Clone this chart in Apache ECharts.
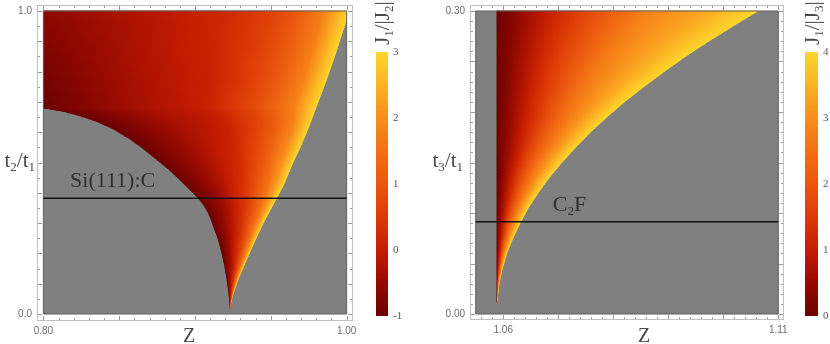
<!DOCTYPE html>
<html>
<head>
<meta charset="utf-8">
<script src="https://cdn.jsdelivr.net/npm/echarts@6/dist/echarts.min.js"></script>
<style>
  html, body { margin: 0; padding: 0; background: #fff; }
  #chart { width: 830px; height: 344px; }
</style>
</head>
<body>
<div id="chart"></div>
<script>
var chart = echarts.init(document.getElementById('chart'), null, { renderer: 'canvas' })

/* ── shared: fractions across a row at which the colour value is read ── */
var knotFrac = [0, 0.3, 0.6, 0.8, 0.92, 1]

/* ── left panel: J1/|J2| over Z and t2/t1 ─────────────────────────────── */
var leftZRange = [0.80, 1.00]
var leftTRange = [0.0, 1.0]
var leftT  = [1.000, 0.970, 0.900, 0.840, 0.772, 0.720, 0.679, 0.675, 0.668, 0.655, 0.635, 0.610, 0.574, 0.540, 0.508, 0.475,
              0.442, 0.420, 0.400, 0.382, 0.360, 0.335, 0.310, 0.288, 0.245, 0.200, 0.155, 0.112, 0.080, 0.046, 0.013]
var leftZL = [0.800, 0.800, 0.800, 0.800, 0.800, 0.800, 0.800, 0.805, 0.813, 0.823, 0.835, 0.846, 0.858, 0.867, 0.875, 0.883,
              0.8900, 0.8945, 0.8985, 0.9020, 0.9055, 0.9085, 0.9106, 0.9121, 0.9152, 0.9176, 0.9195, 0.9209, 0.9218, 0.9226, 0.9231]
var leftZR = [1.0000, 1.0000, 0.9955, 0.9916, 0.9868, 0.9829, 0.9798, 0.9795, 0.9790, 0.9780, 0.9765, 0.9746, 0.9716, 0.9686, 0.9655, 0.9627,
              0.9600, 0.9580, 0.9559, 0.9539, 0.9516, 0.9489, 0.9462, 0.9440, 0.9400, 0.9360, 0.9321, 0.9284, 0.9262, 0.9242, 0.9231]
var leftV = [
  [-0.60, -0.20, 0.20, 0.75, 1.70, 2.8],
  [-0.65, -0.25, 0.20, 0.80, 1.80, 3.0],
  [-0.72, -0.28, 0.18, 0.82, 1.80, 3.0],
  [-0.80, -0.30, 0.15, 0.85, 1.80, 3.0],
  [-0.88, -0.35, 0.10, 0.85, 1.80, 3.0],
  [-0.95, -0.38, 0.08, 0.88, 1.80, 3.0],
  [-1.00, -0.40, 0.05, 0.90, 1.80, 3.0],
  [-1.00, -0.40, 0.05, 0.90, 1.80, 3.0],
  [-1.00, -0.40, 0.05, 0.90, 1.80, 3.0],
  [-1.00, -0.40, 0.05, 0.90, 1.80, 3.0],
  [-1.00, -0.40, 0.05, 0.90, 1.80, 3.0],
  [-1.00, -0.40, 0.08, 0.95, 1.85, 3.0],
  [-1.00, -0.40, 0.15, 1.05, 1.95, 3.0],
  [-1.00, -0.40, 0.20, 1.10, 2.00, 3.0],
  [-1.00, -0.40, 0.25, 1.15, 2.05, 3.0],
  [-1.00, -0.40, 0.30, 1.20, 2.10, 3.0],
  [-1.00, -0.40, 0.35, 1.25, 2.15, 3.0],
  [-1.00, -0.40, 0.40, 1.28, 2.18, 3.0],
  [-1.00, -0.40, 0.42, 1.29, 2.19, 3.0],
  [-1.00, -0.40, 0.45, 1.30, 2.20, 3.0],
  [-1.00, -0.40, 0.45, 1.30, 2.20, 3.0],
  [-1.00, -0.40, 0.45, 1.30, 2.20, 3.0],
  [-1.00, -0.40, 0.45, 1.30, 2.20, 3.0],
  [-1.00, -0.40, 0.45, 1.30, 2.20, 3.0],
  [-1.00, -0.40, 0.45, 1.30, 2.20, 3.0],
  [-1.00, -0.40, 0.45, 1.30, 2.20, 3.0],
  [-1.00, -0.40, 0.45, 1.30, 2.20, 3.0],
  [-1.00, -0.40, 0.45, 1.30, 2.20, 3.0],
  [-1.00, -0.40, 0.45, 1.30, 2.20, 3.0],
  [-1.00, -0.40, 0.45, 1.30, 2.20, 3.0],
  [-1.00, -0.40, 0.45, 1.30, 2.20, 3.0]
]
var leftVRange = [-1, 3]
var leftLineT = 0.382
var leftNote = { z: 0.8176, t: 0.439, text: 'Si(111):C' }
var leftXLabels = [0.80, 1.00]
var leftYLabels = [0.0, 1.0]

/* ── right panel: J1/|J3| over Z and t3/t1 ────────────────────────────── */
var rightZRange = [1.055, 1.11]
var rightTRange = [0.0, 0.30]
var rightT  = [0.300, 0.285, 0.270, 0.255, 0.240, 0.225, 0.210, 0.195, 0.180, 0.165, 0.150, 0.135, 0.120, 0.105,
               0.091, 0.075, 0.060, 0.045, 0.030, 0.011]
var rightZL = [1.0588, 1.0588, 1.0588, 1.0588, 1.0588, 1.0588, 1.0588, 1.0588, 1.0588, 1.0588, 1.0588, 1.0588, 1.0588, 1.0588,
               1.0588, 1.0588, 1.0588, 1.0588, 1.0588, 1.0588]
var rightZR = [1.1064, 1.1018, 1.0974, 1.0932, 1.0893, 1.0856, 1.0821, 1.0789, 1.0759, 1.0732, 1.0707, 1.0684, 1.0664, 1.0646,
               1.0632, 1.0618, 1.0607, 1.0599, 1.0593, 1.0589]
var rightV = [
  [0, 1.55, 2.90, 3.35, 3.75, 4],
  [0, 1.52, 2.87, 3.35, 3.75, 4],
  [0, 1.50, 2.84, 3.34, 3.75, 4],
  [0, 1.47, 2.80, 3.32, 3.75, 4],
  [0, 1.43, 2.74, 3.30, 3.74, 4],
  [0, 1.36, 2.66, 3.27, 3.73, 4],
  [0, 1.28, 2.58, 3.24, 3.72, 4],
  [0, 1.20, 2.46, 3.20, 3.70, 4],
  [0, 1.15, 2.42, 3.20, 3.70, 4],
  [0, 1.10, 2.40, 3.20, 3.70, 4],
  [0, 1.10, 2.40, 3.20, 3.70, 4],
  [0, 1.10, 2.40, 3.20, 3.70, 4],
  [0, 1.10, 2.40, 3.20, 3.70, 4],
  [0, 1.10, 2.40, 3.20, 3.70, 4],
  [0, 1.10, 2.40, 3.20, 3.70, 4],
  [0, 1.10, 2.40, 3.20, 3.70, 4],
  [0, 1.10, 2.40, 3.20, 3.70, 4],
  [0, 1.10, 2.40, 3.20, 3.70, 4],
  [0, 1.10, 2.40, 3.20, 3.70, 4],
  [0, 1.10, 2.40, 3.20, 3.70, 4]
]
var rightVRange = [0, 4]
var rightLineT = 0.0914
var rightNote = { z: 1.069, t: 0.108 }
var rightXLabels = [1.06, 1.11]
var rightYLabels = [0.00, 0.30]

/* ── colour map (dark red → red → orange → yellow) ───────────────────── */
var cmapStops = [
  [0.000, [107, 0, 0]],
  [0.125, [150, 10, 0]],
  [0.250, [196, 28, 0]],
  [0.375, [220, 58, 6]],
  [0.500, [234, 86, 14]],
  [0.625, [243, 112, 20]],
  [0.750, [248, 142, 28]],
  [0.875, [252, 178, 36]],
  [1.000, [254, 214, 44]]
]

function cmap(s) {
  s = Math.max(0, Math.min(1, s))
  for (var i = 1; i < cmapStops.length; i++) {
    if (s <= cmapStops[i][0]) {
      var a = cmapStops[i - 1], b = cmapStops[i]
      var f = (s - a[0]) / (b[0] - a[0])
      return 'rgb(' + [0, 1, 2].map(function (k) {
        return Math.round(a[1][k] + (b[1][k] - a[1][k]) * f)
      }).join(',') + ')'
    }
  }
  return 'rgb(254,214,44)'
}

function knotValue(vals, f) {
  for (var k = 1; k < knotFrac.length; k++) {
    if (f <= knotFrac[k]) {
      var g = (f - knotFrac[k - 1]) / (knotFrac[k] - knotFrac[k - 1])
      return vals[k - 1] + (vals[k] - vals[k - 1]) * g
    }
  }
  return vals[vals.length - 1]
}

function steps(a, b, step) {
  var out = []
  for (var k = 0; a + k * step <= b + 1e-9; k++) out.push(+(a + k * step).toFixed(4))
  return out
}

/* ── axes: only the end labels; frame and ticks are added afterwards ─── */
function labelAxis(pos, grid, range, labels, digits) {
  return {
    type: 'value', gridIndex: grid, position: pos, min: range[0], max: range[1],
    axisLine: { show: false, onZero: false },
    splitLine: { show: false },
    axisTick: { show: false },
    axisLabel: { show: true, customValues: labels, margin: 5, color: '#6e6e6e', fontSize: 10,
      fontFamily: 'Liberation Sans',
      formatter: function (v) { return v.toFixed(digits) } }
  }
}

function hiddenAxis(grid, range) {
  return { type: 'value', gridIndex: grid, min: range[0], max: range[1], show: false }
}

function cbAxis(grid, range) {
  return {
    type: 'value', gridIndex: grid, position: 'right', min: range[0], max: range[1], interval: 1,
    axisLine: { show: false }, axisTick: { show: false }, splitLine: { show: false },
    axisLabel: { margin: 5, color: '#555', fontSize: 11, fontFamily: 'Liberation Serif' }
  }
}

// frame ranges add a few pixels of padding round the data region
var leftFrameZ = [0.7958, 1.0042], leftFrameT = [-0.0231, 1.0198]
var rightFrameZ = [1.05396, 1.11104], rightFrameT = [-0.00594, 0.30594]

var xAxes = [
  labelAxis('bottom', 0, leftFrameZ, leftXLabels, 2),
  labelAxis('bottom', 1, rightFrameZ, rightXLabels, 2),
  hiddenAxis(2, [0, 1]),
  hiddenAxis(3, [0, 1])
]
var yAxes = [
  labelAxis('left', 0, leftFrameT, leftYLabels, 1),
  labelAxis('left', 1, rightFrameT, rightYLabels, 2),
  cbAxis(2, leftVRange),
  cbAxis(3, rightVRange)
]

/* ── series builders ─────────────────────────────────────────────────── */
function rectSeries(axis, zr, tr, style) {
  return {
    type: 'custom', xAxisIndex: axis, yAxisIndex: axis, silent: true,
    data: [[zr[0], tr[0], zr[1], tr[1]]],
    renderItem: function (params, api) {
      var p0 = api.coord([api.value(0), api.value(3)])
      var p1 = api.coord([api.value(2), api.value(1)])
      return { type: 'rect', shape: { x: p0[0], y: p0[1], width: p1[0] - p0[0], height: p1[1] - p0[1] },
        style: style }
    }
  }
}

function bandSeries(axis, T, ZL, ZR, V, vr) {
  return {
    type: 'custom', xAxisIndex: axis, yAxisIndex: axis, silent: true,
    data: T.slice(0, -1).map(function (t, i) { return [ZL[i], t, i] }),
    renderItem: function (params, api) {
      var i = api.value(2)
      function row(s) {
        return {
          zl: ZL[i] + (ZL[i + 1] - ZL[i]) * s,
          zr: ZR[i] + (ZR[i + 1] - ZR[i]) * s,
          t: T[i] + (T[i + 1] - T[i]) * s,
          v: V[i].map(function (v, k) { return v + (V[i + 1][k] - v) * s })
        }
      }
      var yTop = api.coord([ZL[i], T[i]])[1], yBot = api.coord([ZL[i], T[i + 1]])[1]
      var m = Math.max(1, Math.ceil((yBot - yTop) / 1.5))
      var children = []
      for (var k = 0; k < m; k++) {
        var a = row(k / m), b = row((k + 1) / m), c = row((k + 0.5) / m)
        var p1 = api.coord([a.zl, a.t]), p2 = api.coord([a.zr, a.t])
        var p3 = api.coord([b.zr, b.t]), p4 = api.coord([b.zl, b.t])
        p1[1] -= 0.4; p2[1] -= 0.4; p3[1] += 0.4; p4[1] += 0.4
        var xl = api.coord([c.zl, c.t])[0], xr = api.coord([c.zr, c.t])[0]
        if (xr - xl < 1) xr = xl + 1
        var stops = []
        for (var j = 0; j <= 12; j++) {
          var f = j / 12
          stops.push({ offset: f, color: cmap((knotValue(c.v, f) - vr[0]) / (vr[1] - vr[0])) })
        }
        children.push({ type: 'polygon', shape: { points: [p1, p2, p3, p4] },
          style: { fill: new echarts.graphic.LinearGradient(xl, 0, xr, 0, stops, true) } })
      }
      return { type: 'group', children: children }
    }
  }
}

function colorbarSeries(axis, vr) {
  return {
    type: 'custom', xAxisIndex: axis, yAxisIndex: axis, silent: true,
    data: [[0, vr[0], 1, vr[1]]],
    renderItem: function (params, api) {
      var p0 = api.coord([api.value(0), api.value(3)])
      var p1 = api.coord([api.value(2), api.value(1)])
      var stops = []
      for (var j = 0; j <= 24; j++) stops.push({ offset: j / 24, color: cmap(j / 24) })
      return { type: 'rect', shape: { x: p0[0], y: p0[1], width: p1[0] - p0[0], height: p1[1] - p0[1] },
        style: { fill: new echarts.graphic.LinearGradient(0, p1[1], 0, p0[1], stops, true) } }
    }
  }
}

function lineSeries(axis, zr, t) {
  return {
    type: 'line', xAxisIndex: axis, yAxisIndex: axis, silent: true, symbol: 'none',
    data: [[zr[0], t], [zr[1], t]],
    lineStyle: { color: '#111', width: 1.6 }
  }
}

var richMain = { fontSize: 22, lineHeight: 26, fontFamily: 'Liberation Serif', color: '#1a1a1a', verticalAlign: 'middle' }
var richSub = { fontSize: 13, lineHeight: 13, fontFamily: 'Liberation Serif', color: '#1a1a1a', verticalAlign: 'bottom' }

function noteSeries(axis, note, text) {
  return {
    type: 'scatter', xAxisIndex: axis, yAxisIndex: axis, silent: true, symbolSize: 0,
    data: [[note.z, note.t]],
    label: { show: true, position: 'right', distance: 0, formatter: text,
      rich: { m: richMain, s: richSub } }
  }
}

/* ── titles drawn as graphic text ─────────────────────────────────────── */
function gText(x, y, text, align, size, rotation) {
  return {
    type: 'text', x: x, y: y, rotation: rotation || 0, silent: true,
    style: {
      text: text, textAlign: align, textVerticalAlign: 'middle',
      rich: {
        m: { fontSize: size, lineHeight: 26, fontFamily: 'Liberation Serif', fill: '#4a4a4a', verticalAlign: 'middle' },
        s: { fontSize: 13, lineHeight: 13, fontFamily: 'Liberation Serif', fill: '#4a4a4a', verticalAlign: 'bottom' }
      }
    }
  }
}

var titles = [
  gText(189, 337, '{m|Z}', 'center', 20),
  gText(644, 337, '{m|Z}', 'center', 20),
  gText(35, 161, '{m|t}{s|2}{m|/t}{s|1}', 'right', 21),
  gText(463, 161, '{m|t}{s|3}{m|/t}{s|1}', 'right', 21),
  gText(383, 45, '{m|J}{s|1}{m|/|J}{s|2}{m||}', 'left', 21, Math.PI / 2),
  gText(813, 45, '{m|J}{s|1}{m|/|J}{s|3}{m||}', 'left', 21, Math.PI / 2)
]

chart.setOption({
  animation: false,
  backgroundColor: '#ffffff',
  grid: [
    { left: 37, top: 5, width: 316, height: 316, outerBoundsMode: 'none' },
    { left: 470, top: 5, width: 314, height: 315, outerBoundsMode: 'none' },
    { left: 376, top: 52, width: 12, height: 264, outerBoundsMode: 'none' },
    { left: 805, top: 52, width: 13, height: 264, outerBoundsMode: 'none' }
  ],
  xAxis: xAxes,
  yAxis: yAxes,
  series: [
    rectSeries(0, leftZRange, leftTRange, { fill: '#808080' }),
    bandSeries(0, leftT, leftZL, leftZR, leftV, leftVRange),
    rectSeries(0, leftZRange, leftTRange, { fill: 'none', stroke: '#5e5e5e', lineWidth: 1 }),
    lineSeries(0, leftZRange, leftLineT),
    noteSeries(0, leftNote, '{m|' + leftNote.text + '}'),
    rectSeries(1, rightZRange, rightTRange, { fill: '#808080' }),
    bandSeries(1, rightT, rightZL, rightZR, rightV, rightVRange),
    rectSeries(1, rightZRange, rightTRange, { fill: 'none', stroke: '#5e5e5e', lineWidth: 1 }),
    lineSeries(1, rightZRange, rightLineT),
    noteSeries(1, rightNote, '{m|C}{s|2}{m|F}'),
    colorbarSeries(2, leftVRange),
    colorbarSeries(3, rightVRange)
  ],
  graphic: titles
})

/* ── frame boxes with inward ticks, placed through the axes' scales ──── */
function frameGraphics(ai, fz, ft, xMajor, xMinor, yMajor, yMinor) {
  function px(v) { return chart.convertToPixel({ xAxisIndex: ai }, v) }
  function py(v) { return chart.convertToPixel({ yAxisIndex: ai }, v) }
  var x0 = Math.round(px(fz[0])), x1 = Math.round(px(fz[1]))
  var y0 = Math.round(py(ft[1])), y1 = Math.round(py(ft[0]))
  var out = []
  function bar(x, y, w, h, color) {
    out.push({ type: 'rect', silent: true, z: 50,
      shape: { x: x, y: y, width: w, height: h }, style: { fill: color } })
  }
  bar(x0, y0, x1 - x0, 1, '#c0c0c0')
  bar(x0, y1 - 1, x1 - x0, 1, '#c0c0c0')
  bar(x0, y0, 1, y1 - y0, '#c0c0c0')
  bar(x1 - 1, y0, 1, y1 - y0, '#c0c0c0')
  function xt(vals, len) {
    vals.forEach(function (v) {
      var x = Math.round(px(v))
      bar(x, y1 - 1 - len, 1, len, '#9c9c9c')
      bar(x, y0 + 1, 1, len, '#9c9c9c')
    })
  }
  function yt(vals, len) {
    vals.forEach(function (v) {
      var y = Math.round(py(v))
      bar(x0 + 1, y, len, 1, '#9c9c9c')
      bar(x1 - 1 - len, y, len, 1, '#9c9c9c')
    })
  }
  xt(xMajor, 4); xt(xMinor, 2); yt(yMajor, 4); yt(yMinor, 2)
  return out
}

var frames = []
  .concat(frameGraphics(0, leftFrameZ, leftFrameT, steps(0.80, 1.00, 0.05), steps(0.80, 1.00, 0.01),
    steps(0, 1, 0.1), steps(0, 1, 0.05)))
  .concat(frameGraphics(1, rightFrameZ, rightFrameT, steps(1.06, 1.11, 0.01), steps(1.056, 1.11, 0.002),
    steps(0, 0.30, 0.05), steps(0, 0.30, 0.01)))

chart.setOption({ graphic: titles.concat(frames) })

window.addEventListener('resize', function () { chart.resize() })
</script>
</body>
</html>
